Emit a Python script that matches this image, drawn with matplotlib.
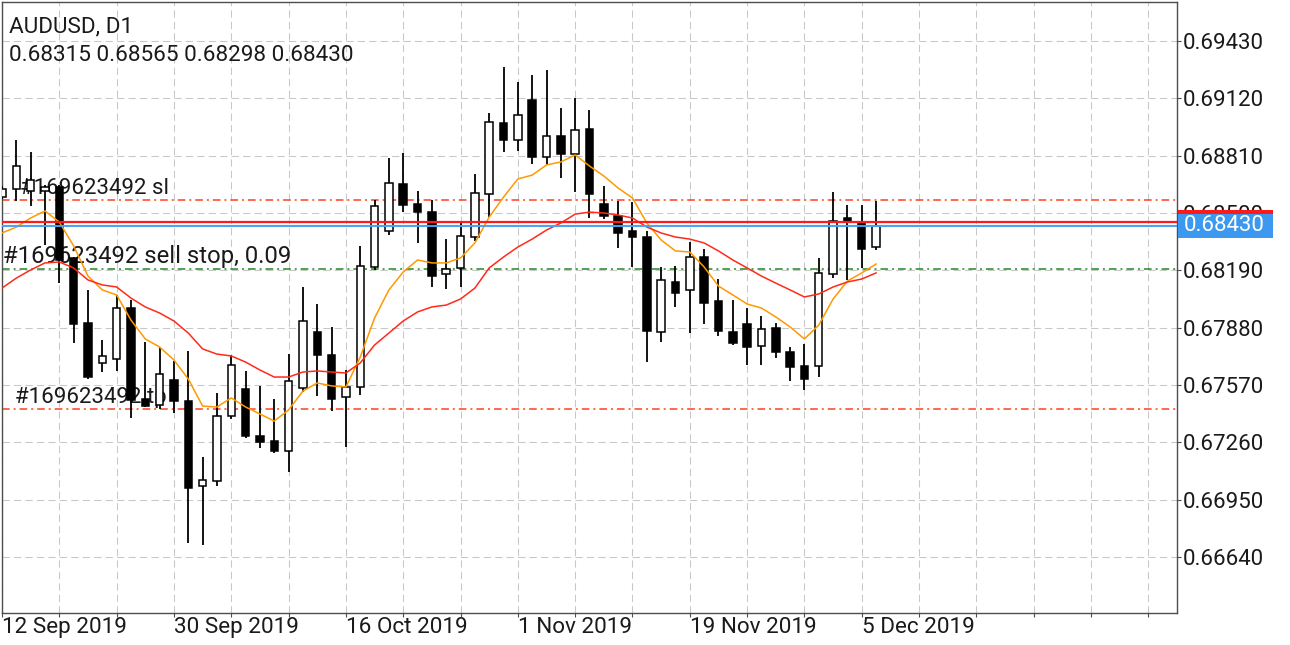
import numpy as np
import matplotlib
matplotlib.use("Agg")
import matplotlib.pyplot as plt
from matplotlib.patches import Rectangle
from matplotlib.transforms import blended_transform_factory, ScaledTranslation

plt.rcParams['font.family'] = ['Roboto', 'DejaVu Sans']

symbol = "AUDUSD, D1"
last_ohlc = "0.68315 0.68565 0.68298 0.68430"
order_id = "#169623492"

# daily bars, 12 Sep 2019 .. 6 Dec 2019
opens = [0.68587, 0.68630, 0.68619, 0.68619, 0.68640, 0.68257, 0.67905, 0.67689, 0.67710, 0.67986,
         0.67494, 0.67462, 0.67597, 0.67483, 0.67024, 0.67051, 0.67402, 0.67548, 0.67294, 0.67267,
         0.67213, 0.67554, 0.67856, 0.67732, 0.67505, 0.67559, 0.68208, 0.68403, 0.68657, 0.68549,
         0.68505, 0.68170, 0.68203, 0.68370, 0.68603, 0.68987, 0.68895, 0.69111, 0.68803, 0.68916,
         0.68819, 0.68954, 0.68549, 0.68484, 0.68403, 0.68370, 0.67856, 0.68127, 0.68084, 0.68262,
         0.68024, 0.67856, 0.67900, 0.67781, 0.67878, 0.67748, 0.67673, 0.67673, 0.68170, 0.68473,
         0.68451, 0.68315]
highs = [0.68646, 0.68895, 0.68830, 0.68651, 0.68651, 0.68262, 0.68084, 0.67813, 0.68056, 0.68029,
         0.67802, 0.67775, 0.67700, 0.67754, 0.67181, 0.67527, 0.67732, 0.67646, 0.67565, 0.67494,
         0.67738, 0.68100, 0.68008, 0.67883, 0.67651, 0.68322, 0.68570, 0.68797, 0.68824, 0.68619,
         0.68570, 0.68359, 0.68446, 0.68711, 0.69041, 0.69289, 0.69208, 0.69246, 0.69273, 0.69068,
         0.69122, 0.69057, 0.68646, 0.68565, 0.68559, 0.68403, 0.68208, 0.68213, 0.68343, 0.68305,
         0.68143, 0.68029, 0.67986, 0.67943, 0.67905, 0.67775, 0.67792, 0.68257, 0.68613, 0.68543,
         0.68543, 0.68565]
lows = [0.68576, 0.68565, 0.68538, 0.68327, 0.68121, 0.67797, 0.67602, 0.67640, 0.67646, 0.67391,
        0.67451, 0.67440, 0.67418, 0.66716, 0.66705, 0.67024, 0.67386, 0.67283, 0.67229, 0.67202,
        0.67100, 0.67532, 0.67510, 0.67429, 0.67235, 0.67516, 0.68192, 0.68381, 0.68505, 0.68338,
        0.68100, 0.68089, 0.68100, 0.68349, 0.68478, 0.68830, 0.68835, 0.68765, 0.68759, 0.68689,
        0.68613, 0.68473, 0.68467, 0.68311, 0.68208, 0.67694, 0.67802, 0.67992, 0.67851, 0.67900,
        0.67835, 0.67786, 0.67678, 0.67678, 0.67716, 0.67592, 0.67543, 0.67613, 0.68148, 0.68138,
        0.68203, 0.68298]
closes = [0.68630, 0.68754, 0.68678, 0.68640, 0.68246, 0.67900, 0.67613, 0.67727, 0.67986, 0.67489,
          0.67456, 0.67629, 0.67483, 0.67013, 0.67056, 0.67402, 0.67678, 0.67294, 0.67262, 0.67213,
          0.67592, 0.67916, 0.67732, 0.67494, 0.67559, 0.68213, 0.68538, 0.68662, 0.68543, 0.68505,
          0.68159, 0.68197, 0.68376, 0.68608, 0.68992, 0.68895, 0.69030, 0.68803, 0.68916, 0.68819,
          0.68949, 0.68603, 0.68484, 0.68392, 0.68370, 0.67862, 0.68138, 0.68068, 0.68262, 0.68013,
          0.67862, 0.67797, 0.67775, 0.67873, 0.67748, 0.67667, 0.67602, 0.68175, 0.68457, 0.68457,
          0.68305, 0.68430]

# moving averages as drawn on the chart
ma_fast = [0.68392, 0.68424, 0.68473, 0.68511, 0.68451, 0.68322, 0.68159, 0.68084, 0.68057, 0.67921,
           0.67819, 0.67775, 0.67705, 0.67602, 0.67456, 0.67451, 0.67500, 0.67451, 0.67413, 0.67375,
           0.67435, 0.67537, 0.67581, 0.67565, 0.67559, 0.67721, 0.67932, 0.68084, 0.68181, 0.68246,
           0.68230, 0.68230, 0.68257, 0.68338, 0.68478, 0.68586, 0.68684, 0.68705, 0.68760, 0.68776,
           0.68814, 0.68754, 0.68700, 0.68635, 0.68581, 0.68446, 0.68354, 0.68295, 0.68289, 0.68208,
           0.68105, 0.68057, 0.68008, 0.67986, 0.67938, 0.67884, 0.67819, 0.67894, 0.68035, 0.68132,
           0.68176, 0.68224]
ma_slow = [0.68094, 0.68148, 0.68192, 0.68230, 0.68235, 0.68203, 0.68138, 0.68111, 0.68100, 0.68040,
           0.67992, 0.67959, 0.67916, 0.67851, 0.67765, 0.67737, 0.67727, 0.67694, 0.67651, 0.67613,
           0.67613, 0.67640, 0.67646, 0.67640, 0.67635, 0.67689, 0.67786, 0.67851, 0.67916, 0.67965,
           0.67992, 0.68002, 0.68035, 0.68094, 0.68203, 0.68262, 0.68316, 0.68359, 0.68408, 0.68446,
           0.68494, 0.68505, 0.68500, 0.68489, 0.68473, 0.68424, 0.68392, 0.68370, 0.68359, 0.68338,
           0.68295, 0.68246, 0.68203, 0.68159, 0.68121, 0.68084, 0.68046, 0.68062, 0.68100, 0.68127,
           0.68143, 0.68176]

date_labels = ["12 Sep 2019", "30 Sep 2019", "16 Oct 2019", "1 Nov 2019", "19 Nov 2019", "5 Dec 2019"]
date_bars = [0, 12, 24, 36, 48, 60]
price_ticks = [0.66640, 0.66950, 0.67260, 0.67570, 0.67880, 0.68190, 0.68500, 0.68810, 0.69120, 0.69430]

sl_price = 0.68570
tp_price = 0.67440
stop_price = 0.68195
bid = 0.68430
ask = 0.68450

FS = 16.2
W, H = 1290, 645
fig = plt.figure(figsize=(W / 100, H / 100), dpi=100)
ax = fig.add_axes([2 / W, 1 - 613 / H, 1175 / W, 611 / H])

x = np.arange(len(closes))
o = np.array(opens)
c = np.array(closes)
up = c >= o

# candles
ax.vlines(x, lows, highs, color='black', lw=1.3, zorder=3)
body_lo = np.minimum(o, c)
body_h = np.maximum(np.abs(c - o), 0.00005)
ax.bar(x, body_h, bottom=body_lo, width=0.52, color=np.where(up, 'white', 'black'),
       edgecolor='black', linewidth=1.1, zorder=4)

# moving averages
ax.plot(x, ma_fast, color='#ff9900', lw=1.1, zorder=5)
ax.plot(x, ma_slow, color='#ff2a1a', lw=1.1, zorder=5)

# order levels
dd = (5, 2.6, 1.3, 2.6)
ax.axhline(sl_price, color='#ff4020', lw=1.1, dashes=dd, zorder=2)
ax.axhline(tp_price, color='#ff4020', lw=1.1, dashes=dd, zorder=2)
ax.axhline(stop_price, color='#1f8a1f', lw=1.1, dashes=dd, zorder=2)
ax.axhline(ask, color='#ff1a1a', lw=1.6, zorder=6)
ax.axhline(bid, color='#4a9ff5', lw=1.4, zorder=6)

for txt, xf, lvl, fs in [(order_id + " sl", 0.0153, sl_price, 16),
                         (order_id + " sell stop, 0.09", 0.0011, stop_price, 17.2),
                         (order_id + " tp", 0.0111, tp_price, 16)]:
    ax.annotate(txt, xy=(xf, lvl), xycoords=('axes fraction', 'data'), xytext=(0, 4.3),
                textcoords='offset points', va='baseline', ha='left', fontsize=fs,
                color='#1a1a1a', zorder=2.5)

# axes styling
ax.set_xlim(0, 82)
ax.set_ylim(0.66337, 0.69641)
ax.yaxis.tick_right()
ax.set_yticks(price_ticks)
ax.set_yticklabels(["%.5f" % p for p in price_ticks])
ax.set_xticks(np.arange(0, 81, 4))
ax.set_xticklabels([date_labels[date_bars.index(b)] if b in date_bars else "" for b in range(0, 81, 4)])
for lab in ax.get_xticklabels():
    lab.set_horizontalalignment('left')
    lab.set_transform(lab.get_transform() + ScaledTranslation(3 / 100, 0, fig.dpi_scale_trans))
ax.tick_params(axis='y', direction='out', length=3, pad=1.5, labelsize=16, colors='#4d4d4d', labelcolor='#1a1a1a')
ax.tick_params(axis='x', direction='out', length=3, pad=0, labelsize=FS, colors='#4d4d4d', labelcolor='#1a1a1a')
ax.grid(True, color='#c8c8c8', lw=0.75, dashes=(7, 4))
ax.set_axisbelow(True)
for s in ax.spines.values():
    s.set_color('#4d4d4d')
    s.set_linewidth(1.0)

# price labels on the right scale
bt = blended_transform_factory(fig.transFigure, ax.transData)
box_h = 0.0013
fig.add_artist(Rectangle((1178 / W, ask - box_h / 2), 95 / W, box_h, transform=bt,
                         facecolor='#ff1a1a', edgecolor='none', zorder=10))
fig.add_artist(Rectangle((1178 / W, bid - box_h / 2), 95 / W, box_h, transform=bt,
                         facecolor='#3d98f0', edgecolor='none', zorder=11))
fig.text(1184 / W, bid, "%.5f" % bid, transform=bt, color='white', fontsize=16,
         va='center', ha='left', zorder=12)

fig.text(9 / W, 1 - 32 / H, symbol, fontsize=FS, color='#1a1a1a', va='baseline')
fig.text(9 / W, 1 - 61 / H, last_ohlc, fontsize=FS, color='#1a1a1a', va='baseline')

fig.savefig("out.png", dpi=100)
